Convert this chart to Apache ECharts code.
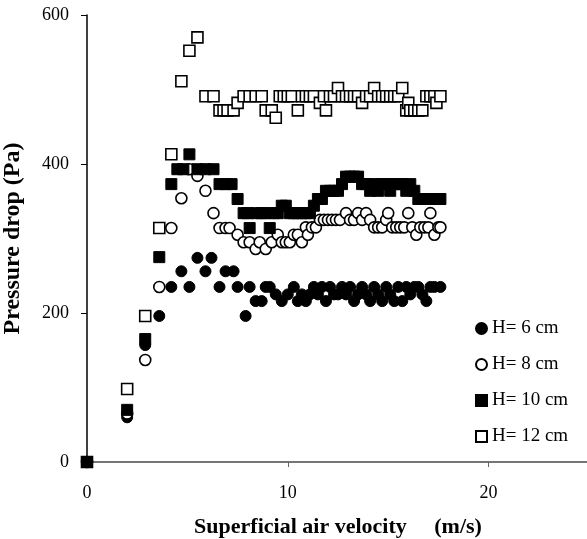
<!DOCTYPE html>
<html><head><meta charset="utf-8">
<script src="https://cdn.jsdelivr.net/npm/echarts@6/dist/echarts.min.js"></script>
<style>html,body{margin:0;padding:0;background:#fff}#c{width:587px;height:539px}</style>
</head><body><div id="c"></div>
<script>
const seriesNames = ['H= 6 cm', 'H= 8 cm', 'H= 10 cm', 'H= 12 cm'];
const xTicks = [0, 10, 20];
const yTicks = [0, 200, 400, 600];

const h6X = [0, 2.0, 2.9, 3.6, 4.2, 4.7, 5.1, 5.5, 5.9, 6.2, 6.6, 6.9, 7.3, 7.5, 7.9, 8.1, 8.4, 8.7, 8.9, 9.1, 9.4, 9.7, 10.0, 10.3, 10.5, 10.7, 10.9, 11.1, 11.3, 11.5, 11.7, 11.9, 12.1, 12.3, 12.5, 12.7, 12.9, 13.1, 13.3, 13.5, 13.7, 13.9, 14.1, 14.3, 14.5, 14.7, 14.9, 15.1, 15.3, 15.5, 15.7, 15.9, 16.1, 16.3, 16.5, 16.7, 16.9, 17.1, 17.3, 17.6];
const h6Y = [0, 60, 157, 196, 235, 256, 235, 274, 256, 274, 235, 256, 256, 235, 196, 235, 216, 216, 235, 235, 225, 216, 225, 235, 216, 225, 216, 225, 235, 225, 235, 216, 235, 225, 225, 235, 225, 235, 216, 225, 235, 225, 216, 235, 225, 216, 235, 225, 216, 235, 216, 235, 225, 235, 235, 225, 216, 235, 235, 235];

const h8X = [0, 2.0, 2.9, 3.6, 4.2, 4.7, 5.1, 5.5, 5.9, 6.3, 6.6, 6.9, 7.1, 7.5, 7.8, 8.1, 8.4, 8.6, 8.9, 9.2, 9.5, 9.7, 9.9, 10.1, 10.3, 10.5, 10.7, 10.9, 11.0, 11.2, 11.4, 11.6, 11.8, 12.0, 12.2, 12.4, 12.6, 12.9, 13.1, 13.3, 13.5, 13.7, 13.9, 14.1, 14.3, 14.5, 14.7, 14.9, 15.0, 15.2, 15.4, 15.6, 15.8, 16.0, 16.2, 16.4, 16.6, 16.8, 17.0, 17.1, 17.3, 17.5, 17.6];
const h8Y = [0, 65, 137, 235, 314, 354, 393, 384, 364, 334, 314, 314, 314, 305, 295, 295, 286, 295, 286, 295, 305, 295, 295, 295, 305, 305, 295, 315, 305, 315, 315, 325, 325, 325, 325, 325, 325, 334, 325, 325, 334, 325, 334, 325, 315, 315, 315, 325, 334, 315, 315, 315, 315, 334, 315, 305, 315, 315, 315, 334, 305, 315, 315];

const h10X = [0, 2.0, 2.9, 3.6, 4.2, 4.5, 4.8, 5.1, 5.5, 5.9, 6.3, 6.6, 6.9, 7.2, 7.5, 7.8, 8.0, 8.1, 8.4, 8.7, 8.9, 9.1, 9.3, 9.5, 9.7, 9.9, 10.1, 10.3, 10.5, 10.7, 10.9, 11.1, 11.3, 11.5, 11.7, 11.9, 12.1, 12.3, 12.5, 12.7, 12.9, 13.1, 13.3, 13.5, 13.7, 13.9, 14.1, 14.3, 14.5, 14.7, 14.9, 15.1, 15.3, 15.5, 15.7, 15.9, 16.1, 16.3, 16.5, 16.7, 16.9, 17.1, 17.3, 17.6];
const h10Y = [0, 70, 165, 275, 373, 393, 393, 413, 393, 393, 393, 373, 373, 373, 353, 334, 334, 314, 334, 334, 334, 314, 334, 334, 344, 344, 334, 334, 334, 334, 334, 334, 344, 353, 353, 364, 364, 364, 364, 373, 383, 383, 383, 383, 373, 373, 364, 373, 364, 373, 373, 364, 373, 373, 373, 364, 373, 364, 353, 353, 353, 353, 353, 353];

const h12X = [0, 2.0, 2.9, 3.6, 4.2, 4.7, 5.1, 5.5, 5.9, 6.3, 6.6, 6.8, 7.0, 7.3, 7.5, 7.8, 8.1, 8.4, 8.7, 8.9, 9.2, 9.4, 9.6, 9.8, 10.0, 10.2, 10.5, 10.7, 10.9, 11.1, 11.3, 11.6, 11.8, 11.9, 12.1, 12.3, 12.5, 12.7, 12.9, 13.1, 13.3, 13.5, 13.7, 13.9, 14.1, 14.3, 14.5, 14.7, 14.9, 15.1, 15.3, 15.5, 15.7, 15.9, 16.0, 16.1, 16.3, 16.5, 16.7, 16.9, 17.1, 17.3, 17.4, 17.6];
const h12Y = [0, 98, 196, 314, 413, 511, 552, 570, 491, 491, 472, 472, 472, 472, 482, 491, 491, 491, 491, 472, 472, 462, 491, 491, 491, 491, 472, 491, 491, 491, 491, 482, 491, 472, 491, 491, 502, 491, 491, 491, 491, 491, 482, 491, 491, 502, 491, 491, 491, 491, 491, 491, 502, 472, 482, 472, 472, 472, 472, 491, 491, 491, 482, 491];

function pts(xs, ys) { return xs.map((x, i) => [x, ys[i]]); }

const serif = '"Liberation Serif", "DejaVu Serif", serif';
const filled = { color: '#000', borderColor: '#000', borderWidth: 1, opacity: 1 };
const open = { color: '#fff', borderColor: '#000', borderWidth: 1.6, opacity: 1 };

const chart = echarts.init(document.getElementById('c'), null, { renderer: 'canvas' });
chart.setOption({
  animation: false,
  backgroundColor: '#fff',
  grid: { left: 87, top: 15, width: 502, height: 447, containLabel: false, outerBoundsMode: 'none' },
  legend: {
    orient: 'vertical', left: 470, top: 314, itemGap: 17,
    itemWidth: 11, itemHeight: 11,
    textStyle: { fontFamily: serif, fontSize: 19, color: '#000' },
    data: seriesNames
  },
  xAxis: [{
    type: 'value', min: 0, max: 25, interval: 10,
    name: 'Superficial air velocity     (m/s)', nameLocation: 'middle', nameGap: 54,
    nameTextStyle: { fontFamily: serif, fontSize: 22, fontWeight: 'bold', color: '#000' },
    axisLine: { show: true, onZero: false, lineStyle: { color: '#000', width: 1.5 } },
    axisTick: { show: true, inside: false, length: 5, lineStyle: { color: '#666' } },
    axisLabel: { margin: 22, fontFamily: serif, fontSize: 18, color: '#000',
      formatter: v => xTicks.includes(v) ? String(v) : '' },
    splitLine: { show: false }
  }, {
    type: 'value', position: 'top', min: 0, max: 25,
    axisLine: { show: true, lineStyle: { color: '#888', width: 1.5 } },
    axisTick: { show: false }, axisLabel: { show: false }, splitLine: { show: false }
  }],
  yAxis: {
    type: 'value', min: 0, max: 600, interval: 200,
    name: 'Pressure drop (Pa)', nameLocation: 'middle', nameGap: 62, nameRotate: 90,
    nameTextStyle: { fontFamily: serif, fontSize: 24, fontWeight: 'bold', color: '#000' },
    axisLine: { show: true, onZero: false, lineStyle: { color: '#000', width: 1.5 } },
    axisTick: { show: true, inside: false, length: 6, lineStyle: { color: '#000' } },
    axisLabel: { margin: 18, fontFamily: serif, fontSize: 18, color: '#000',
      formatter: v => yTicks.includes(v) ? String(v) : '' },
    splitLine: { show: false }
  },
  series: [
    { name: seriesNames[0], type: 'scatter', symbol: 'circle', symbolSize: 11, itemStyle: filled, data: pts(h6X, h6Y), z: 2 },
    { name: seriesNames[1], type: 'scatter', symbol: 'circle', symbolSize: 11, itemStyle: open, data: pts(h8X, h8Y), z: 3 },
    { name: seriesNames[2], type: 'scatter', symbol: 'rect', symbolSize: 11, itemStyle: filled, data: pts(h10X, h10Y), z: 5 },
    { name: seriesNames[3], type: 'scatter', symbol: 'rect', symbolSize: 11, itemStyle: open, data: pts(h12X, h12Y), z: 4 }
  ]
});
</script></body></html>
